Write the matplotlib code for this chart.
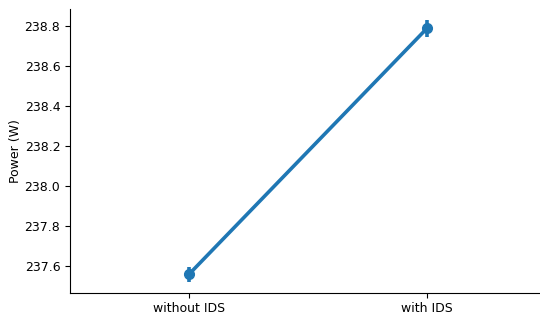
import numpy as np
import matplotlib
matplotlib.use("Agg")
from matplotlib import pyplot as plt

groups = ["without IDS", "with IDS"]
power_mean = [237.559, 238.787]
power_err = [0.037, 0.041]

fig = plt.figure(figsize=(5.4, 3.16), dpi=100)
ax = fig.add_axes([0.1296, 0.0737, 0.8815, 0.8963])

x = np.arange(len(groups))
ax.plot(x, power_mean, color="#1f77b4", lw=2.6, marker="o", ms=7, zorder=3)
ax.errorbar(x, power_mean, yerr=power_err, fmt="none", ecolor="#1f77b4",
            elinewidth=2.6, capsize=0, zorder=3)

ax.set_xticks(x)
ax.set_xticklabels(groups, fontsize=9)
ax.set_xlim(-0.5, 1.5)
ax.set_ylim(237.467, 238.881)
ax.set_yticks([237.6, 237.8, 238.0, 238.2, 238.4, 238.6, 238.8])
ax.tick_params(labelsize=9)
ax.set_ylabel("Power (W)", fontsize=9, labelpad=1.5)
ax.spines["top"].set_visible(False)
ax.spines["right"].set_visible(False)

fig.savefig("out.png", dpi=100)
